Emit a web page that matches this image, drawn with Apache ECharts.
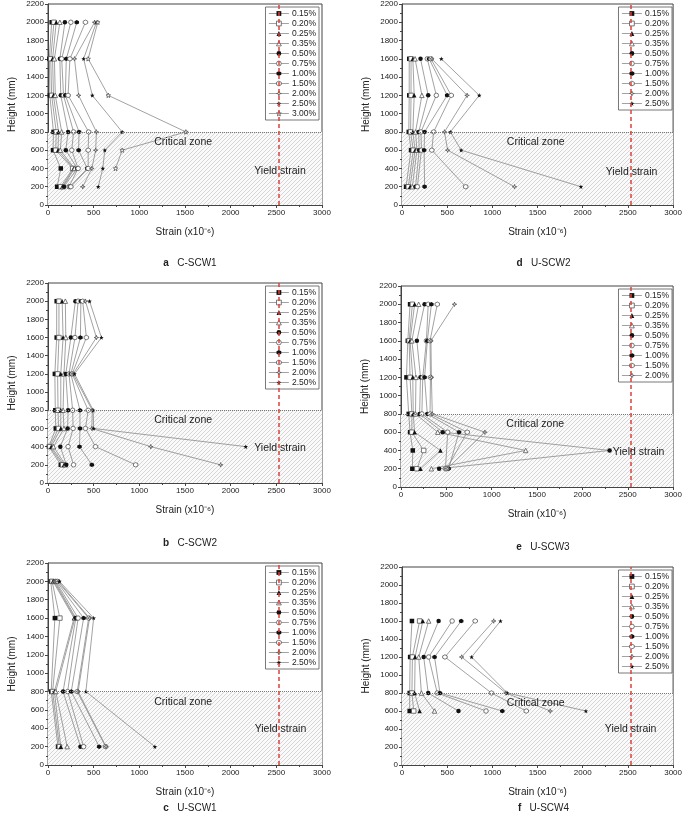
<!DOCTYPE html>
<html>
<head>
<meta charset="utf-8">
<script src="https://cdn.jsdelivr.net/npm/echarts@6.0.0/dist/echarts.min.js"></script>
<style>
  html, body { margin: 0; padding: 0; background: #fff; }
  #main { width: 685px; height: 820px; }
</style>
</head>
<body>
<div id="main"></div>
<script>
// drift levels (legend entries)
const drifts = ["0.15%", "0.20%", "0.25%", "0.35%", "0.50%", "0.75%", "1.00%", "1.50%", "2.00%", "2.50%", "3.00%"];

// a  C-SCW1
const heightsA = [200, 400, 600, 800, 1200, 1600, 2000];
const strainA = [
  [100, 140, 55, 60, 20, 15, 40],
  [140, 270, 85, 90, 40, 30, 65],
  [155, 280, 110, 115, 60, 50, 90],
  [165, 290, 135, 150, 80, 70, 130],
  [175, 320, 195, 220, 140, 130, 185],
  [230, 330, 260, 280, 170, 150, 250],
  [240, 430, 335, 340, 190, 200, 315],
  [250, 440, 440, 445, 220, 240, 410],
  [380, 480, 522, 530, 335, 290, 510],
  [550, 600, 622, 812, 485, 390, 530],
  [null, 740, 812, 1510, 660, 440, 545],
];

// d  U-SCW2
const heightsD = [200, 600, 800, 1200, 1600];
const strainD = [
  [45, 100, 75, 80, 80],
  [70, 125, 95, 100, 100],
  [90, 145, 120, 135, 120],
  [115, 165, 150, 220, 145],
  [150, 190, 185, 290, 205],
  [170, 215, 210, 380, 280],
  [250, 245, 250, 500, 300],
  [705, 330, 350, 545, 320],
  [1245, 505, 470, 720, 330],
  [1980, 655, 535, 855, 435],
];

// b  C-SCW2
const heightsB = [200, 400, 600, 800, 1200, 1600, 2000];
const strainB = [
  [140, 10, 85, 80, 75, 95, 95],
  [160, 20, 115, 110, 105, 120, 120],
  [175, 35, 140, 140, 140, 165, 155],
  [190, 60, 175, 165, 175, 195, 190],
  [200, 135, 215, 220, 195, 250, 300],
  [280, 220, 275, 270, 230, 295, 330],
  [480, 345, 350, 350, 250, 355, 360],
  [960, 520, 410, 440, 265, 420, 380],
  [1890, 1125, 480, 485, 275, 530, 410],
  [null, 2165, 500, 495, 290, 585, 455],
];

// e  U-SCW3
const heightsE = [200, 400, 600, 800, 1200, 1600, 2000];
const strainE = [
  [125, 130, 100, 85, 60, 75, 100],
  [175, 250, 120, 120, 100, 90, 125],
  [215, 435, 150, 135, 130, 100, 150],
  [335, 1375, 405, 160, 165, 120, 195],
  [420, 2300, 460, 205, 215, 175, 260],
  [490, null, 515, 230, 240, 280, 300],
  [525, null, 640, 290, 260, 290, 335],
  [505, null, 730, 320, 325, 320, 400],
  [510, null, 925, 345, 335, 330, 590],
];

// c  U-SCW1
const heightsC = [200, 800, 1600, 2000];
const strainC = [
  [110, 35, 75, 30],
  [125, 50, 130, 45],
  [140, 70, 285, 55],
  [210, 85, 295, 65],
  [355, 165, 305, 75],
  [390, 215, 330, 85],
  [560, 255, 390, 95],
  [630, 320, 445, 105],
  [635, 330, 455, 115],
  [1170, 415, 500, 125],
];

// f  U-SCW4
const heightsF = [600, 800, 1200, 1600];
const strainF = [
  [85, 85, 90, 110],
  [130, 110, 115, 195],
  [195, 140, 145, 230],
  [360, 215, 185, 295],
  [625, 290, 240, 405],
  [930, 390, 295, 555],
  [1110, 420, 360, 655],
  [1375, 990, 475, 810],
  [1640, 1150, 660, 1015],
  [2035, 1165, 770, 1090],
];

const yieldStrain = 2530;
const zoneTop = 800;

// marker shapes
function starPath(n, inner) {
  let d = "";
  for (let i = 0; i < n * 2; i++) {
    const r = i % 2 ? inner : 1;
    const a = -Math.PI / 2 + (i * Math.PI) / n;
    d += (i ? "L" : "M") + (r * Math.cos(a)).toFixed(3) + "," + (r * Math.sin(a)).toFixed(3);
  }
  return "path://" + d + "Z";
}
const hexagon = "path://M0,-1L0.866,-0.5L0.866,0.5L0,1L-0.866,0.5L-0.866,-0.5Z";
const marks = [
  { symbol: "rect", hollow: false },
  { symbol: "rect", hollow: true },
  { symbol: "triangle", hollow: false },
  { symbol: "triangle", hollow: true },
  { symbol: "circle", hollow: false },
  { symbol: "circle", hollow: true },
  { symbol: hexagon, hollow: false },
  { symbol: hexagon, hollow: true },
  { symbol: starPath(4, 0.3), hollow: true },
  { symbol: starPath(5, 0.42), hollow: false },
  { symbol: starPath(5, 0.42), hollow: true },
];
const filledStyle = { color: "#111", borderColor: "#111", borderWidth: 0 };
const hollowStyle = { color: "#fff", borderColor: "#555", borderWidth: 0.8 };
const lineGray = "#8a8a8a";

// hatch for the critical zone
function hatch() {
  const c = document.createElement("canvas");
  c.width = 4;
  c.height = 4;
  const g = c.getContext("2d");
  g.fillStyle = "#fafafa";
  g.fillRect(0, 0, 4, 4);
  g.strokeStyle = "#bdbdbd";
  g.lineWidth = 0.6;
  g.beginPath();
  g.moveTo(0, 4); g.lineTo(4, 0);
  g.moveTo(-1, 1); g.lineTo(1, -1);
  g.moveTo(3, 5); g.lineTo(5, 3);
  g.stroke();
  return c;
}
const hatchImg = hatch();

const panels = [
  { tag: "a", name: "C-SCW1", heights: heightsA, strain: strainA, left: 48, top: 4, width: 274, height: 201, cap: 253, yieldAt: [2540, 370] },
  { tag: "d", name: "U-SCW2", heights: heightsD, strain: strainD, left: 402, top: 4, width: 273, height: 201, cap: 253, yieldAt: [2540, 365] },
  { tag: "b", name: "C-SCW2", heights: heightsB, strain: strainB, left: 48, top: 283, width: 274, height: 200, cap: 533, yieldAt: [2540, 385] },
  { tag: "e", name: "U-SCW3", heights: heightsE, strain: strainE, left: 401, top: 286, width: 274, height: 201, cap: 537, yieldAt: [2620, 385] },
  { tag: "c", name: "U-SCW1", heights: heightsC, strain: strainC, left: 48, top: 563, width: 274, height: 202, cap: 798, yieldAt: [2545, 390] },
  { tag: "f", name: "U-SCW4", heights: heightsF, strain: strainF, left: 402, top: 567, width: 273, height: 198, cap: 798, yieldAt: [2530, 400] },
];

const W = 685;
const grid = [], xAxis = [], yAxis = [], legend = [], title = [], series = [];
const plain = (v) => String(v);

panels.forEach((p, i) => {
  grid.push({ left: p.left, top: p.top, width: p.width, height: p.height, show: true, borderColor: "#444", borderWidth: 1 });
  xAxis.push({
    gridIndex: i, type: "value", min: 0, max: 3000, interval: 500,
    name: "Strain (x10⁻⁶)", nameLocation: "middle", nameGap: 22,
    nameTextStyle: { fontSize: 10, color: "#222" },
    axisLine: { show: true, lineStyle: { color: "#444" } },
    axisTick: { show: true, length: 3, lineStyle: { color: "#444" } },
    minorTick: { show: true, splitNumber: 2, length: 2, lineStyle: { color: "#444" } },
    axisLabel: { fontSize: 8, margin: 4, color: "#222", formatter: plain },
    splitLine: { show: false },
  });
  yAxis.push({
    gridIndex: i, type: "value", min: 0, max: 2200, interval: 200,
    name: "Height (mm)", nameLocation: "middle", nameGap: 31,
    nameTextStyle: { fontSize: 10, color: "#222" },
    axisLine: { show: true, lineStyle: { color: "#444" } },
    axisTick: { show: true, length: 3, lineStyle: { color: "#444" } },
    minorTick: { show: true, splitNumber: 2, length: 2, lineStyle: { color: "#444" } },
    axisLabel: { fontSize: 8, margin: 4, color: "#222", formatter: plain },
    splitLine: { show: false },
  });
  const names = drifts.slice(0, p.strain.length);
  legend.push({
    data: names.map((n, k) => ({
      name: n,
      itemStyle: marks[k].hollow ? hollowStyle : filledStyle,
      lineStyle: { color: lineGray, width: 0.8 },
    })),
    orient: "vertical",
    right: W - (p.left + p.width) + 3, top: p.top + 3,
    itemWidth: 20, itemHeight: 6, itemGap: 1,
    padding: [2, 3, 2, 3],
    backgroundColor: "#fff", borderColor: "#555", borderWidth: 0.8, borderRadius: 0,
    textStyle: { fontSize: 8.5, lineHeight: 8.5, color: "#222", padding: [0, 0, 0, -2] },
    selectedMode: false,
  });
  title.push({
    text: "{b|" + p.tag + "}   " + p.name,
    left: p.left + p.width / 2, top: p.cap, textAlign: "center",
    textStyle: { fontSize: 10, fontWeight: "normal", color: "#222", rich: { b: { fontWeight: "bold", fontSize: 10, color: "#222" } } },
  });

  p.strain.forEach((vals, k) => {
    const m = marks[k];
    const s = {
      type: "line", name: names[k], xAxisIndex: i, yAxisIndex: i,
      color: m.hollow ? "#555" : "#111",
      data: p.heights.map((h, j) => [vals[j], h]).filter((d) => d[0] != null),
      symbol: m.symbol, symbolSize: 4.5, showAllSymbol: true,
      itemStyle: m.hollow ? hollowStyle : filledStyle,
      lineStyle: { color: lineGray, width: 0.8 },
      emphasis: { disabled: true },
      animation: false, z: 3,
    };
    if (k === 0) {
      s.markArea = {
        silent: true,
        itemStyle: { color: { image: hatchImg, repeat: "repeat" } },
        data: [[{ yAxis: 0 }, { yAxis: zoneTop }]],
      };
      s.markLine = {
        silent: true, symbol: "none", label: { show: false }, animation: false,
        data: [
          { yAxis: zoneTop, lineStyle: { type: "dotted", color: "#777", width: 1 } },
          { xAxis: yieldStrain, lineStyle: { type: [4, 3], color: "#e0403a", width: 1.5 } },
        ],
      };
      s.markPoint = {
        silent: true, symbol: "rect", symbolSize: 1, animation: false,
        itemStyle: { color: "transparent" },
        label: { show: true, position: "inside", formatter: "{b}", fontSize: 10.5, color: "#222" },
        data: [
          { name: "Critical zone", coord: [1480, 690] },
          { name: "Yield strain", coord: p.yieldAt },
        ],
      };
    }
    series.push(s);
  });
});

const chart = echarts.init(document.getElementById("main"));
chart.setOption({
  animation: false,
  textStyle: { fontFamily: "Liberation Sans, Arial, sans-serif" },
  grid, xAxis, yAxis, legend, title, series,
});
</script>
</body>
</html>
